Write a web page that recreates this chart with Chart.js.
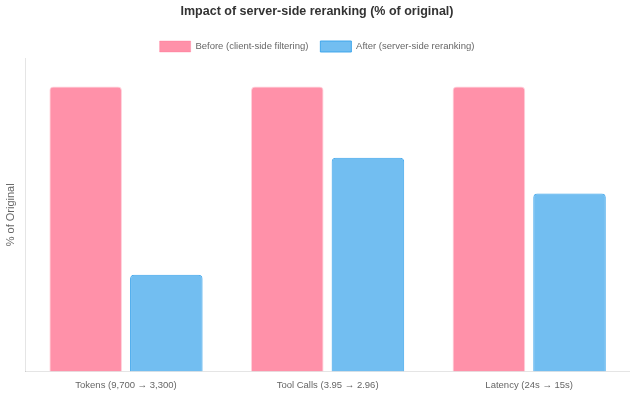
<!DOCTYPE html>
<html>
<head>
<meta charset="utf-8">
<script src="https://cdn.jsdelivr.net/npm/chart.js@4"></script>
<style>
    html, body { margin: 0; padding: 0; background: #fff; }
    #wrap { width: 630px; height: 394px; }
</style>
</head>
<body>
<div id="wrap"><canvas id="chart"></canvas></div>
<script>
// Categories and values (% of original)
const categories = ['Tokens (9,700 \u2192 3,300)', 'Tool Calls (3.95 \u2192 2.96)', 'Latency (24s \u2192 15s)'];
const beforeValues = [100, 100, 100];
const afterValues = [34, 75, 62.5];

Chart.defaults.font.family = '"Liberation Sans", Arial, sans-serif';
Chart.defaults.color = '#666';

// trim the legend's bottom padding a bit
const legendTrim = {
    id: 'legendTrim',
    beforeInit(chart) {
        const fit = chart.legend.fit;
        chart.legend.fit = function() {
            fit.call(this);
            this.height -= 4;
        };
    }
};

new Chart(document.getElementById('chart'), {
    type: 'bar',
    data: {
        labels: categories,
        datasets: [{
            label: 'Before (client-side filtering)',
            data: beforeValues,
            backgroundColor: 'rgba(255, 99, 132, 0.7)',
            borderColor: 'rgba(255, 99, 132, 0.3)',
            borderWidth: 1,
            borderRadius: 4
        }, {
            label: 'After (server-side reranking)',
            data: afterValues,
            backgroundColor: 'rgba(54, 162, 235, 0.7)',
            borderColor: 'rgba(54, 162, 235, 0.9)',
            borderWidth: 1,
            borderRadius: 4
        }]
    },
    plugins: [legendTrim],
    options: {
        responsive: true,
        maintainAspectRatio: false,
        animation: false,
        layout: { padding: { left: 4, bottom: 3 } },
        plugins: {
            title: {
                display: true,
                text: 'Impact of server-side reranking (% of original)',
                color: '#333',
                font: { size: 12.5, weight: 'bold' },
                padding: { top: 4, bottom: 10 }
            },
            legend: {
                labels: { boxWidth: 31, boxHeight: 11, padding: 12, font: { size: 9.5 } }
            }
        },
        scales: {
            x: {
                grid: { display: false },
                ticks: { font: { size: 9.5 }, padding: 0 }
            },
            y: {
                min: 0,
                max: 110,
                grid: { display: false },
                ticks: { display: false },
                title: { display: true, text: '% of Original', font: { size: 11 }, padding: 0 }
            }
        }
    }
});
</script>
</body>
</html>
